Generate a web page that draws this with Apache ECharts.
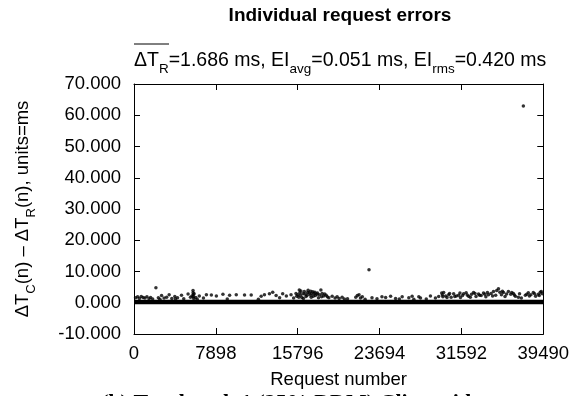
<!DOCTYPE html>
<html><head><meta charset="utf-8">
<script src="https://cdn.jsdelivr.net/npm/echarts@6/dist/echarts.min.js"></script>
<style>html,body{margin:0;padding:0;background:#fff}#c{width:572px;height:396px}</style>
</head><body><div id="c"></div>
<script>
// ---- data ----
const xTicks = [0, 7898, 15796, 23694, 31592, 39490];
const yTicks = [-10, 0, 10, 20, 30, 40, 50, 60, 70];
// dense band of errors hugging zero (request number span, value span)
const bandSpan = [0, 39490];
const bandRange = [-0.45, 0.95];
// sparse individual errors above the band
const pointX = [150,350,520,700,880,1050,1250,1450,1600,1800,2114,2350,2500,2661,2900,3150,3392,3650,3939,4000,4200,4583,4800,5217,5450,5600,5697,5700,5720,5740,5760,5800,5957,6100,6300,6700,6985,7465,7946,8580,9000,9224,9867,10665,11309,
12000,12269,12586,13067,13384,13711,14050,14345,14700,15152,15400,15632,15700,15800,15900,15949,16000,16050,16100,16200,16300,16350,16430,16500,16600,16700,16750,16800,16910,17000,17050,17100,17150,17250,17300,17390,17450,17500,17650,17700,17800,17900,18034,18100,18159,18300,18400,18543,18650,18800,19120,19400,19600,19792,20081,20300,20600,21397,21550,21714,21850,22031,22300,22675,22963,23444,23924,
24279,24760,25240,25600,25874,26518,26835,27000,27479,27642,28200,28603,29083,29400,29689,29750,29800,29881,30073,30200,30361,30450,30600,30842,30950,31100,31322,31450,31500,31700,31802,32050,32150,32283,32450,32571,32763,32900,33000,33244,33350,33500,33724,33850,33950,34100,34204,34450,34600,34685,34900,35000,35165,35300,35450,35550,35646,35800,35950,36126,36350,36450,36606,36700,36800,37087,37200,37375,37568,37759,37900,38047,38150,38300,38528,38650,38750,39008,39100,39200,39300,39393];
const pointY = [1.6,1.9,1.4,2.0,1.7,1.5,1.9,1.3,1.7,1.2,4.8,1.6,1.1,2.3,1.5,1.8,2.6,1.4,2.0,1.2,1.6,2.4,1.3,2.8,1.8,2.2,3.9,3.2,2.6,1.9,1.4,2.9,1.7,1.1,2.2,1.5,2.6,2.5,2.2,2.7,1.2,2.4,2.6,2.5,2.5,
1.1,2.1,2.6,2.9,3.4,2.3,1.6,2.9,2.2,2.6,1.5,3.0,2.1,2.6,1.8,4.1,3.2,2.4,3.8,1.7,2.9,1.4,3.6,2.8,2.0,2.4,3.3,4.0,3.1,2.5,3.7,1.8,2.9,3.5,2.1,3.0,3.4,2.3,2.7,3.1,1.6,2.6,4.1,1.9,3.0,2.2,2.8,2.4,1.9,1.6,2.1,1.5,1.9,1.4,1.8,1.2,1.3,1.8,2.3,2.6,1.5,1.9,1.1,10.6,1.6,1.3,1.9,
1.7,2.1,1.4,1.2,1.9,1.6,2.1,1.1,1.9,1.5,1.2,2.2,1.5,2.0,3.1,2.5,1.9,3.3,2.2,1.7,2.6,3.0,1.8,2.9,2.0,2.2,2.4,3.1,1.7,2.3,2.9,3.2,2.5,2.1,1.8,2.7,3.3,3.0,2.0,2.8,2.4,2.3,3.1,2.7,1.9,3.3,2.6,3.0,2.2,3.6,2.4,3.9,4.5,3.4,2.6,3.7,3.3,2.0,2.8,3.6,2.7,3.3,3.0,2.5,2.1,1.8,2.9,1.5,63.0,2.4,2.7,3.2,2.2,2.6,3.3,2.9,2.1,2.7,2.3,3.4,3.6,2.9];
// text
const titleText = 'Individual request errors';
const subtitleParts = [['n','ΔT'],['s','R'],['n','=1.686 ms, EI'],['s','avg'],['n','=0.051 ms, EI'],['s','rms'],['n','=0.420 ms']];
const yNameParts = [['n','ΔT'],['s','C'],['n','(n) – ΔT'],['s','R'],['n','(n), units=ms']];
const xName = 'Request number';
const captionText = '(b) Test-bench 1 (25% DDM) Client-side';

// ---- build ----
const FONT = '"Liberation Sans", Arial, sans-serif';
const FS = 18.5;
const richY = {
  n: {fontFamily: FONT, fontSize: FS, fontWeight: 'normal', lineHeight: 22, color: '#000', verticalAlign: 'top'},
  s: {fontFamily: FONT, fontSize: 13, fontWeight: 'normal', lineHeight: 13, color: '#000', verticalAlign: 'top', padding: [11.5, 0, 0, 0]}
};
const richSub = {
  n: {fontFamily: FONT, fontSize: 19.5, fontWeight: 'normal', lineHeight: 22, color: '#000', verticalAlign: 'top'},
  s: {fontFamily: FONT, fontSize: 13.5, fontWeight: 'normal', lineHeight: 13, color: '#000', verticalAlign: 'top', padding: [11, 0, 0, 0]}
};
const toRich = parts => parts.map(p => '{' + p[0] + '|' + p[1] + '}').join('');
const pts = pointX.map((x, i) => [x, pointY[i]]);

const chart = echarts.init(document.getElementById('c'), null, {renderer: 'canvas'});
const axisLine = {show: true, onZero: false, lineStyle: {color: '#000', width: 1}};
const tick = {show: true, inside: true, length: 6, lineStyle: {color: '#000', width: 1}};
chart.setOption({
  animation: false,
  backgroundColor: '#fff',
  title: [
    {text: titleText, left: 340, top: 5, textAlign: 'center', padding: 0,
     textStyle: {fontFamily: FONT, fontSize: 19, fontWeight: 'bold', color: '#000', lineHeight: 22}},
    {text: toRich(subtitleParts), left: 134, top: 51, padding: 0,
     textStyle: {fontWeight: 'normal', rich: richSub}}
  ],
  grid: {left: 134, right: 27, top: 84, bottom: 62},
  xAxis: [
    {type: 'value', min: xTicks[0], max: xTicks[xTicks.length - 1], interval: xTicks[1] - xTicks[0],
     name: xName, nameLocation: 'middle', nameGap: 35,
     nameTextStyle: {fontFamily: FONT, fontSize: FS, color: '#000', lineHeight: 22},
     axisLine: axisLine, axisTick: tick, splitLine: {show: false},
     axisLabel: {margin: 10, fontFamily: FONT, fontSize: FS, color: '#000', lineHeight: 20,
                 showMinLabel: true, showMaxLabel: true, formatter: v => String(v)}},
    {type: 'value', position: 'top', min: xTicks[0], max: xTicks[xTicks.length - 1], interval: xTicks[1] - xTicks[0],
     axisLine: axisLine, axisTick: tick, axisLabel: {show: false}, splitLine: {show: false}}
  ],
  yAxis: [
    {type: 'value', min: yTicks[0], max: yTicks[yTicks.length - 1], interval: yTicks[1] - yTicks[0],
     name: toRich(yNameParts), nameLocation: 'middle', nameGap: 99,
     nameTextStyle: {rich: richY},
     axisLine: axisLine, axisTick: tick, splitLine: {show: false},
     axisLabel: {margin: 13, fontFamily: FONT, fontSize: FS, color: '#000', formatter: v => v.toFixed(3)}},
    {type: 'value', position: 'right', min: yTicks[0], max: yTicks[yTicks.length - 1], interval: yTicks[1] - yTicks[0],
     axisLine: axisLine, axisTick: tick, axisLabel: {show: false}, splitLine: {show: false}}
  ],
  series: [{
    type: 'scatter', xAxisIndex: 0, yAxisIndex: 0,
    data: pts, symbol: 'circle', symbolSize: 3.5,
    itemStyle: {color: '#000'},
    markArea: {silent: true, itemStyle: {color: '#000'},
      data: [[{xAxis: bandSpan[0], yAxis: bandRange[0]}, {xAxis: bandSpan[1], yAxis: bandRange[1]}]]}
  }],
  graphic: [
    {type: 'line', shape: {x1: 134, y1: 44, x2: 169, y2: 44}, style: {stroke: '#000', lineWidth: 1}},
    {type: 'text', x: 291, y: 392, style: {text: captionText, fontFamily: '"Liberation Serif", "Times New Roman", serif',
      fontWeight: 'bold', fontSize: 22, fill: '#000', textAlign: 'center', textVerticalAlign: 'top'}}
  ]
});
</script></body></html>
